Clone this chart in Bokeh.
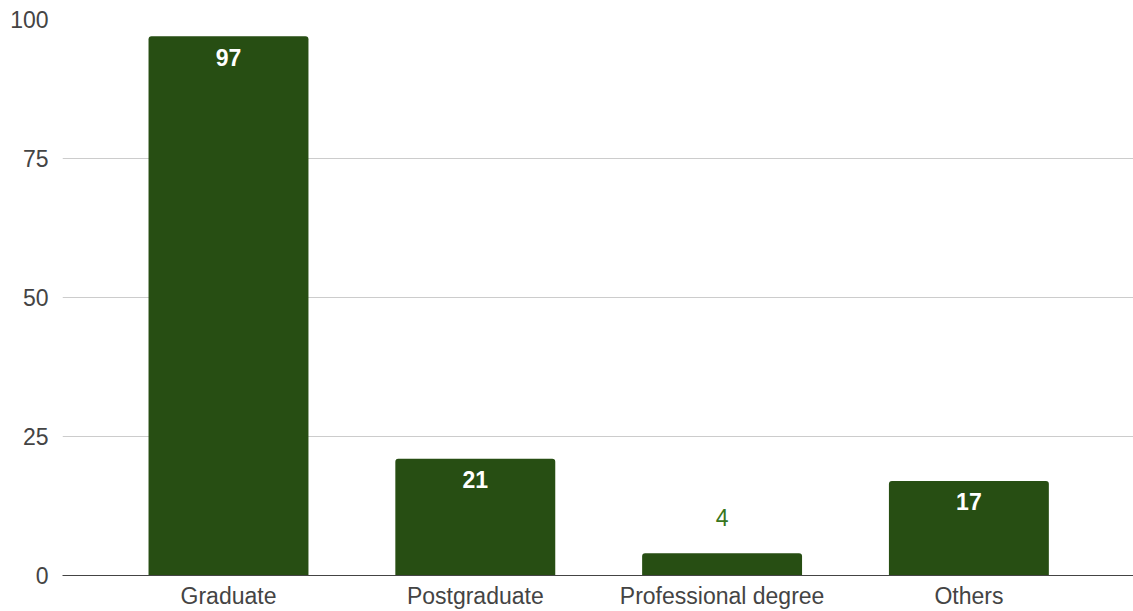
from bokeh.plotting import figure
from bokeh.models import ColumnDataSource, FixedTicker, Range1d
from bokeh.core.properties import value
from bokeh.embed import file_html
from bokeh.resources import INLINE

categories = ["Graduate", "Postgraduate", "Professional degree", "Others"]
counts = [97, 21, 4, 17]
y_ticks = [0, 25, 50, 75, 100]

FONT = "Liberation Sans"
BAR = "#274e13"

idx = list(range(len(categories)))
src = ColumnDataSource(dict(x=idx, top=counts, label=[str(c) for c in counts]))

inside = [i for i, c in enumerate(counts) if c >= 10]
outside = [i for i, c in enumerate(counts) if c < 10]
src_in = ColumnDataSource(dict(x=[idx[i] for i in inside], y=[counts[i] for i in inside],
                               label=[str(counts[i]) for i in inside]))
src_out = ColumnDataSource(dict(x=[idx[i] for i in outside], y=[counts[i] for i in outside],
                                label=[str(counts[i]) for i in outside]))

p = figure(width=1133, height=611, output_backend="svg", toolbar_location=None,
           x_range=Range1d(-0.6726, 3.667), y_range=Range1d(0, 100),
           min_border_left=62, min_border_right=0, min_border_top=19, min_border_bottom=36)
p.outline_line_color = None
p.background_fill_color = "white"
p.border_fill_color = "white"

p.vbar(x="x", top="top", bottom=0, width=0.648, source=src, fill_color=BAR,
       line_color=None, border_radius=[3, 3, 0, 0])

p.text(x="x", y="y", text="label", source=src_in, text_align="center",
       text_baseline="alphabetic", y_offset=21, text_color="white",
       text_font=value(FONT), text_font_size="23px", text_font_style="bold")
p.text(x="x", y="y", text="label", source=src_out, text_align="center",
       text_baseline="alphabetic", y_offset=-36, text_color="#38761d",
       text_font=value(FONT), text_font_size="23px")

# y axis
p.yaxis.ticker = FixedTicker(ticks=y_ticks)
p.yaxis.axis_line_color = None
p.yaxis.major_tick_line_color = None
p.yaxis.minor_tick_line_color = None
p.yaxis.major_tick_out = 0
p.yaxis.major_tick_in = 0
p.yaxis.major_label_standoff = 14
p.yaxis.major_label_text_font = FONT
p.yaxis.major_label_text_font_size = "23px"
p.yaxis.major_label_text_color = "#444444"

# x axis
p.xaxis.ticker = FixedTicker(ticks=idx)
p.xaxis.major_label_overrides = {i: c for i, c in zip(idx, categories)}
p.xaxis.axis_line_color = "#444444"
p.xaxis.axis_line_width = 1
p.xaxis.major_tick_line_color = None
p.xaxis.minor_tick_line_color = None
p.xaxis.major_tick_out = 0
p.xaxis.major_tick_in = 0
p.xaxis.major_label_standoff = 7
p.xaxis.major_label_text_font = FONT
p.xaxis.major_label_text_font_size = "23px"
p.xaxis.major_label_text_color = "#444444"

p.xgrid.grid_line_color = None
p.ygrid.grid_line_color = "#cccccc"
p.ygrid.grid_line_width = 1

open("out.html", "w").write(file_html(p, INLINE))
